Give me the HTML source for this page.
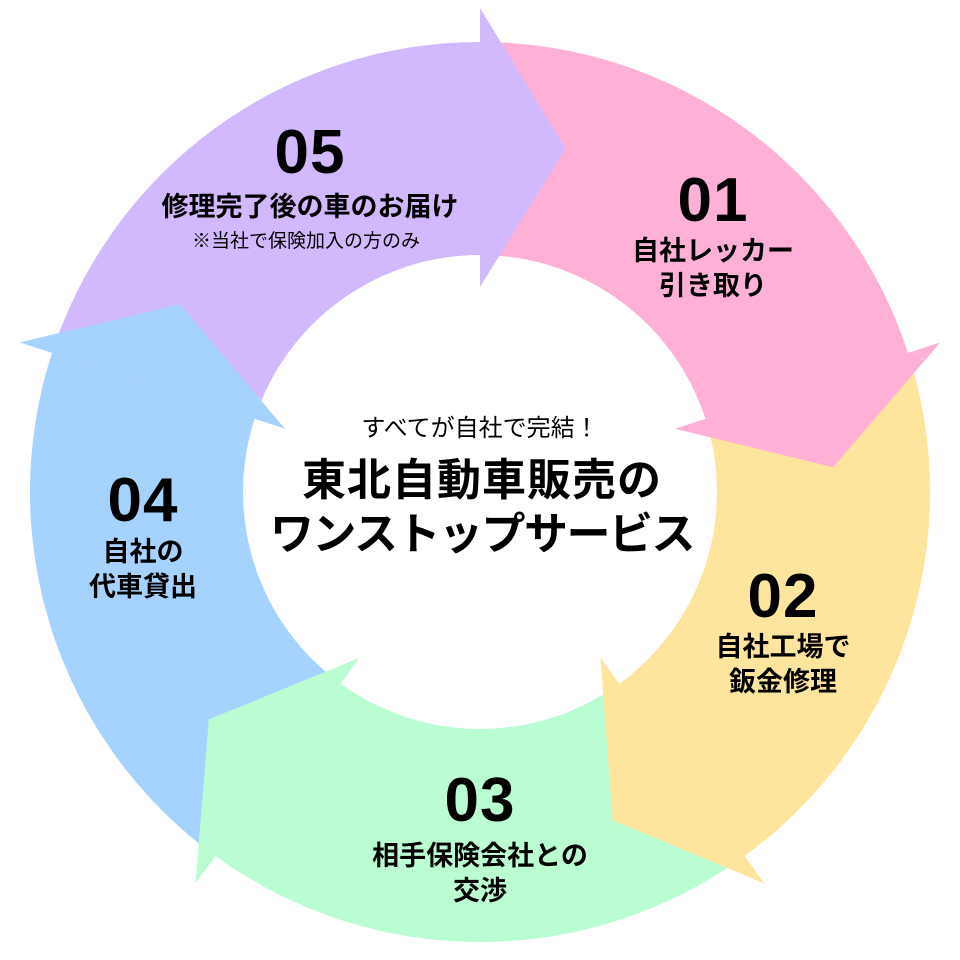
<!DOCTYPE html>
<html><head><meta charset="utf-8">
<style>
html,body{margin:0;padding:0;background:#fff;}
body{width:960px;height:960px;position:relative;overflow:hidden;font-family:"Liberation Sans","Noto Sans CJK JP",sans-serif;color:#000;}
svg{position:absolute;left:0;top:0;}
.t{position:absolute;text-align:center;font-weight:bold;white-space:nowrap;transform:translateX(-50%);}
.n{font-size:62px;line-height:62px;letter-spacing:1px;}
.l{font-size:27px;line-height:35px;}
.s{font-size:19px;font-weight:normal;line-height:22px;}
</style></head><body>
<svg id="s" width="960" height="960" viewBox="0 0 960 960"></svg>
<script>
var cx=480,cy=492,R=450,r=237,RO=484,RI=205,RT=354,TA=14;
function P(a,rad){var t=a*Math.PI/180;return (cx+rad*Math.sin(t)).toFixed(1)+" "+(cy-rad*Math.cos(t)).toFixed(1);}
var cols=['#feb0d7','#fee59e','#bafdd3','#a5d3fe','#d2b9fe'];
var bodies='',heads='';
for(var i=0;i<5;i++){
 var a=i*72,b=a+72,c=cols[i];
 bodies+='<path fill="'+c+'" d="M'+P(a,R)+' A'+R+' '+R+' 0 0 1 '+P(b,R)+' L'+P(b,r)+' A'+r+' '+r+' 0 0 0 '+P(a,r)+' L'+P(a+TA,RT)+' Z"/>';
 heads+='<path fill="'+c+'" d="M'+P(b,RO)+' L'+P(b+TA,RT)+' L'+P(b,RI)+' Z"/>';
}
document.getElementById('s').innerHTML=bodies+heads;
</script>
<div class="t n" style="left:310px;top:122px;">05</div>
<div class="t l" style="left:310px;top:190px;">修理完了後の車のお届け</div>
<div class="t s" style="left:306px;top:231px;">※当社で保険加入の方のみ</div>

<div class="t n" style="left:713px;top:170px;">01</div>
<div class="t l" style="left:713px;top:234px;">自社レッカー<br>引き取り</div>

<div class="t n" style="left:783px;top:566px;">02</div>
<div class="t l" style="left:783px;top:630px;">自社工場で<br>鈑金修理</div>

<div class="t n" style="left:480px;top:770px;">03</div>
<div class="t l" style="left:480px;top:839px;">相手保険会社との<br>交渉</div>

<div class="t n" style="left:143px;top:470px;">04</div>
<div class="t l" style="left:143px;top:535px;">自社の<br>代車貸出</div>

<div class="t" style="left:480px;top:414px;font-size:24px;font-weight:normal;line-height:30px;">すべてが自社で完結！</div>
<div class="t" style="left:482px;top:454px;font-size:44px;line-height:54px;"><span style="letter-spacing:1px;">東北自動車販売の</span><br><span style="letter-spacing:-1.5px;">ワンストップサービス</span></div>
</body></html>
